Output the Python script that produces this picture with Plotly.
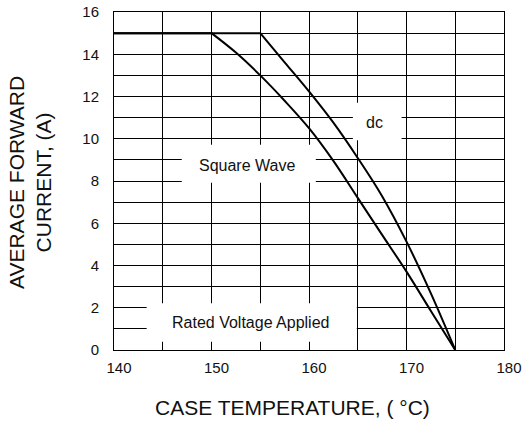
import plotly.graph_objects as go

# Data
flat_temp_sq = [140, 150]
flat_temp_dc = [140, 155]
flat_curr = [15, 15]

sq_temp = [150, 152.5, 155, 157.5, 160, 162.5, 165, 167.5, 170, 172.5, 175]
sq_curr = [15, 14.08, 13.0, 11.8, 10.5, 8.95, 7.2, 5.45, 3.71, 1.85, 0]

dc_temp = [155, 157.5, 160, 162.5, 165, 167.5, 170, 172.5, 175]
dc_curr = [15, 13.62, 12.24, 10.76, 9.09, 7.28, 5.13, 2.68, 0]

x_ticks = [140, 150, 160, 170, 180]
y_ticks = [0, 2, 4, 6, 8, 10, 12, 14, 16]

FONT = "Liberation Sans, Arial, sans-serif"
TXT = "#111"
LINE = dict(color="black", width=2)
CURVE = dict(color="black", width=2, shape="spline", smoothing=1.0)

fig = go.Figure()
fig.add_trace(go.Scatter(x=flat_temp_sq, y=flat_curr, mode="lines", line=LINE, showlegend=False))
fig.add_trace(go.Scatter(x=flat_temp_dc, y=flat_curr, mode="lines", line=LINE, showlegend=False))
fig.add_trace(go.Scatter(x=sq_temp, y=sq_curr, mode="lines", line=CURVE, showlegend=False))
fig.add_trace(go.Scatter(x=dc_temp, y=dc_curr, mode="lines", line=CURVE, showlegend=False))

# white label boxes that interrupt the grid
boxes = [
    (146.95, 160.7, 7.92, 9.72),
    (164.5, 169.5, 9.93, 11.71),
    (143.35, 164.9, 0.39, 2.21),
]
shapes = [dict(type="rect", xref="x", yref="y", x0=a, x1=b, y0=c, y1=d,
               fillcolor="white", line=dict(width=0), layer="above")
          for a, b, c, d in boxes]

annotations = [
    dict(x=153.67, y=8.72, xref="x", yref="y", text="Square Wave", showarrow=False,
         font=dict(size=16, color=TXT)),
    dict(x=166.73, y=10.76, xref="x", yref="y", text="dc", showarrow=False,
         font=dict(size=16, color=TXT)),
    dict(x=154.0, y=1.29, xref="x", yref="y", text="Rated Voltage Applied", showarrow=False,
         font=dict(size=16, color=TXT)),
    dict(x=0.4576, y=-0.169, xref="paper", yref="paper", text="CASE TEMPERATURE, ( °C)",
         showarrow=False, font=dict(size=21, color=TXT), yanchor="middle"),
    dict(x=-0.2154, y=0.497, xref="paper", yref="paper",
         text="AVERAGE FORWARD<br>CURRENT, (A)", textangle=-90,
         showarrow=False, font=dict(size=21, color=TXT), xanchor="center", yanchor="middle"),
]

fig.update_layout(
    width=523, height=424,
    margin=dict(l=114, r=19, t=12, b=74, autoexpand=False),
    paper_bgcolor="white", plot_bgcolor="white",
    font=dict(family=FONT, color=TXT),
    shapes=shapes, annotations=annotations,
    xaxis=dict(range=[140, 180], tickvals=x_ticks, ticktext=[str(v) for v in x_ticks],
               automargin=False,
               showgrid=True, gridcolor="black", gridwidth=1,
               minor=dict(dtick=5, tick0=140, showgrid=True, gridcolor="black", gridwidth=1),
               showline=True, linecolor="black", linewidth=1, mirror=True,
               ticks="outside", ticklen=4, tickcolor="white", ticklabelshift=5,
               tickfont=dict(size=15, family=FONT, color=TXT), zeroline=False),
    yaxis=dict(range=[0, 16], tickvals=y_ticks, ticktext=[str(v) for v in y_ticks],
               automargin=False,
               showgrid=True, gridcolor="black", gridwidth=1,
               minor=dict(dtick=1, tick0=0, showgrid=True, gridcolor="black", gridwidth=1),
               showline=True, linecolor="black", linewidth=1, mirror=True,
               ticks="outside", ticklen=11, tickcolor="white",
               tickfont=dict(size=15, family=FONT, color=TXT), zeroline=False),
)

fig.write_html("out.html", config={"displayModeBar": False},
               post_script="document.body.style.margin='0';")
